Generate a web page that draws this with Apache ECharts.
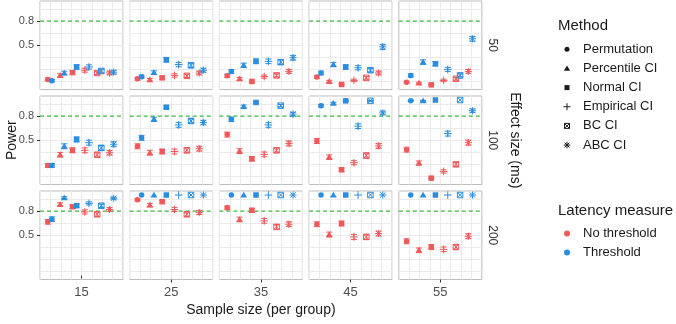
<!DOCTYPE html>
<html>
<head>
<meta charset="utf-8">
<script src="https://cdn.jsdelivr.net/npm/echarts@6/dist/echarts.min.js"></script>
<style>
  html, body { margin: 0; padding: 0; background: #fff; }
  #chart { width: 676px; height: 324px; }
</style>
</head>
<body>
<div id="chart"></div>
<script>
var sampleSizes = [15, 25, 35, 45, 55];
var effectSizes = [50, 100, 200];
var methods = ['Permutation', 'Percentile CI', 'Normal CI', 'Empirical CI', 'BC CI', 'ABC CI'];
var latencyMeasures = ['No threshold', 'Threshold'];
var yTicks = [0.5, 0.8];
var yGrid = [0.05, 0.2, 0.35, 0.5, 0.65, 0.95]; // 0.8 is covered by the target line
var targetPower = 0.8;
var nSim = 1000; // simulations per cell, for the error bars

// power: one row per sample size, one column per method
var noThr50 = [
  [0.075, 0.125, 0.16, 0.19, 0.155, 0.155],
  [0.083, 0.07, 0.095, 0.125, 0.12, 0.155],
  [0.12, 0.083, 0.05, 0.11, 0.125, 0.175],
  [0.105, 0.05, 0.013, 0.063, 0.095, 0.155],
  [0.04, 0.03, 0.008, 0.063, 0.083, 0.175]
];
var thr50 = [
  [0.06, 0.155, 0.23, 0.23, 0.18, 0.165],
  [0.11, 0.16, 0.32, 0.26, 0.25, 0.19],
  [0.175, 0.25, 0.30, 0.30, 0.29, 0.345],
  [0.155, 0.26, 0.23, 0.22, 0.19, 0.48],
  [0.125, 0.29, 0.27, 0.2, 0.125, 0.58]
];
var noThr100 = [
  [0.187, 0.32, 0.375, 0.375, 0.32, 0.345],
  [0.425, 0.345, 0.36, 0.36, 0.375, 0.395],
  [0.57, 0.365, 0.27, 0.325, 0.375, 0.46],
  [0.49, 0.29, 0.133, 0.22, 0.31, 0.43],
  [0.383, 0.217, 0.029, 0.113, 0.2, 0.47]
];
var thr100 = [
  [0.187, 0.425, 0.51, 0.47, 0.405, 0.45],
  [0.53, 0.76, 0.91, 0.69, 0.74, 0.72],
  [0.76, 0.92, 0.97, 0.69, 0.93, 0.825],
  [0.93, 0.96, 0.99, 0.675, 0.99, 0.84],
  [0.99, 0.99, 1.0, 0.583, 1.0, 0.867]
];
var noThr200 = [
  [0.667, 0.883, 0.854, 0.79, 0.76, 0.82],
  [0.94, 0.875, 0.917, 0.82, 0.76, 0.783],
  [0.842, 0.696, 0.81, 0.679, 0.604, 0.637],
  [0.637, 0.508, 0.646, 0.479, 0.479, 0.521],
  [0.425, 0.313, 0.354, 0.325, 0.354, 0.488]
];
var thr200 = [
  [0.70, 0.967, 0.867, 0.896, 0.867, 0.96],
  [1, 1, 1, 1, 1, 1],
  [1, 1, 1, 1, 1, 1],
  [1, 1, 1, 1, 1, 1],
  [1, 1, 1, 1, 1, 1]
];

var tables = [[noThr50, noThr100, noThr200], [thr50, thr100, thr200]];
var latencyColors = ['#f0585a', '#2a8de0'];
var TARGET_COLOR = '#3cb83c';
var GRID_COLOR = '#ebebeb';
var FONT = 'Liberation Sans, Arial, sans-serif';

// panel layout
var LEFT0 = 40, TOP0 = 1, COL_STEP = 89.7, ROW_STEP = 95;
var PANEL_W = 83, PANEL_H = 88.5;
var Y_MIN = -0.05, Y_MAX = 1.05, Y_STEP = 0.05;
var X_MIN = 0, X_MAX = 8;
// x inside a panel runs 0..8, methods dodged around these centres
var METHOD_X0 = 0.95, METHOD_STEP = 1.19, DODGE = 0.2;
var POINT_SIZE = 5.5;

// one colour per y tick (every 0.05), transparent where no grid line is wanted
var yLineColors = [];
for (var t = 0; t <= Math.round((Y_MAX - Y_MIN) / Y_STEP); t++) {
  var v = Y_MIN + t * Y_STEP;
  var on = yGrid.some(function (gv) { return Math.abs(gv - v) < 1e-6; });
  yLineColors.push(on ? GRID_COLOR : 'rgba(0,0,0,0)');
}

function shapeEls(m, cx, cy, s, color) {
  var h = s / 2;
  function ln(x1, y1, x2, y2) {
    return { type: 'line', shape: { x1: x1, y1: y1, x2: x2, y2: y2 }, style: { stroke: color, lineWidth: 1 } };
  }
  switch (m) {
    case 0:
      return [{ type: 'circle', shape: { cx: cx, cy: cy, r: h }, style: { fill: color } }];
    case 1:
      return [{ type: 'polygon', shape: { points: [[cx, cy - h * 1.2], [cx - h * 1.25, cy + h * 0.9], [cx + h * 1.25, cy + h * 0.9]] }, style: { fill: color } }];
    case 2:
      return [{ type: 'rect', shape: { x: cx - h, y: cy - h, width: s, height: s }, style: { fill: color } }];
    case 3:
      return [ln(cx - h * 1.4, cy, cx + h * 1.4, cy), ln(cx, cy - h * 1.4, cx, cy + h * 1.4)];
    case 4:
      return [
        { type: 'rect', shape: { x: cx - h, y: cy - h, width: s, height: s }, style: { fill: 'none', stroke: color, lineWidth: 1 } },
        ln(cx - h, cy - h, cx + h, cy + h), ln(cx - h, cy + h, cx + h, cy - h)
      ];
    default:
      var d = h * 0.95;
      return [
        ln(cx - h * 1.3, cy, cx + h * 1.3, cy), ln(cx, cy - h * 1.3, cx, cy + h * 1.3),
        ln(cx - d, cy - d, cx + d, cy + d), ln(cx - d, cy + d, cx + d, cy - d)
      ];
  }
}

function renderPoint(params, api) {
  var x = api.value(0), y = api.value(1), m = api.value(2), l = api.value(3);
  var color = latencyColors[l];
  var half = 1.96 * Math.sqrt(y * (1 - y) / nSim);
  var p = api.coord([x, y]);
  var lo = api.coord([x, Math.max(0, y - half)]);
  var hi = api.coord([x, Math.min(1, y + half)]);
  var kids = [];
  if (lo[1] - hi[1] > 0.5) {
    var st = { stroke: color, lineWidth: 1 };
    kids.push(
      { type: 'line', shape: { x1: p[0], y1: lo[1], x2: p[0], y2: hi[1] }, style: st },
      { type: 'line', shape: { x1: p[0] - 3, y1: lo[1], x2: p[0] + 3, y2: lo[1] }, style: st },
      { type: 'line', shape: { x1: p[0] - 3, y1: hi[1], x2: p[0] + 3, y2: hi[1] }, style: st }
    );
  }
  return { type: 'group', children: kids.concat(shapeEls(m, p[0], p[1], POINT_SIZE, color)) };
}

var grids = [], xAxes = [], yAxes = [], series = [];
for (var r = 0; r < effectSizes.length; r++) {
  for (var c = 0; c < sampleSizes.length; c++) {
    var g = grids.length;
    grids.push({
      left: LEFT0 + c * COL_STEP, top: TOP0 + r * ROW_STEP, width: PANEL_W, height: PANEL_H,
      show: true, borderColor: '#bdbdbd', borderWidth: 1, containLabel: false, outerBoundsMode: 'none'
    });
    var xi = xAxes.length;
    xAxes.push({
      gridIndex: g, type: 'value', min: X_MIN, max: X_MAX, interval: 1, position: 'top',
      axisLine: { show: false }, axisTick: { show: false }, axisLabel: { show: false },
      splitLine: { show: true, lineStyle: { color: GRID_COLOR, width: 1 } }
    });
    if (r === effectSizes.length - 1) {
      xAxes.push({
        gridIndex: g, type: 'value', min: X_MIN, max: X_MAX, position: 'bottom',
        axisLine: { show: false },
        axisTick: { show: true, customValues: [4], length: 3, lineStyle: { color: '#333' } },
        axisLabel: {
          show: true, customValues: [4], margin: 6, fontSize: 13, fontFamily: FONT, color: '#4d4d4d',
          formatter: (function (n) { return function () { return String(n); }; })(sampleSizes[c])
        },
        splitLine: { show: false }
      });
    }
    var yi = yAxes.length;
    yAxes.push({
      gridIndex: g, type: 'value', min: Y_MIN, max: Y_MAX, interval: Y_STEP, position: 'right',
      axisLine: { show: false }, axisTick: { show: false }, axisLabel: { show: false },
      splitLine: { show: true, lineStyle: { color: yLineColors, width: 1 } }
    });
    if (c === 0) {
      yAxes.push({
        gridIndex: g, type: 'value', min: Y_MIN, max: Y_MAX, position: 'left',
        axisLine: { show: false },
        axisTick: { show: true, customValues: yTicks, length: 3, lineStyle: { color: '#333' } },
        axisLabel: {
          show: true, customValues: yTicks, margin: 6, fontSize: 11, fontFamily: FONT, color: '#4d4d4d',
          formatter: function (v) { return v.toFixed(1); }
        },
        splitLine: { show: false }
      });
    }
    // dashed target-power line across the panel
    series.push({
      type: 'line', xAxisIndex: xi, yAxisIndex: yi, silent: true, symbol: 'none', z: 1,
      data: [[X_MIN, targetPower], [X_MAX, targetPower]],
      lineStyle: { color: TARGET_COLOR, type: [4, 3], width: 1.1 },
      itemStyle: { color: TARGET_COLOR }
    });
    var data = [];
    for (var l = 0; l < latencyMeasures.length; l++) {
      for (var m = 0; m < methods.length; m++) {
        data.push([METHOD_X0 + m * METHOD_STEP + (l ? DODGE : -DODGE), tables[l][r][c][m], m, l]);
      }
    }
    series.push({
      type: 'custom', xAxisIndex: xi, yAxisIndex: yi, renderItem: renderPoint, z: 3,
      encode: { x: 0, y: 1 }, data: data, clip: false, silent: true
    });
  }
}

function txt(s, x, y, size, color, align, rot) {
  return {
    type: 'text', x: x, y: y, rotation: rot || 0,
    style: { text: s, fontSize: size, fontFamily: FONT, fill: color, align: align, verticalAlign: 'middle' }
  };
}

var panelsMidY = TOP0 + (ROW_STEP * 2 + PANEL_H) / 2;
var panelsMidX = LEFT0 + (COL_STEP * 4 + PANEL_W) / 2;
var stripX = LEFT0 + COL_STEP * 4 + PANEL_W + 11;
var els = [
  txt('Power', 12, panelsMidY, 14, '#1a1a1a', 'center', Math.PI / 2),
  txt('Sample size (per group)', panelsMidX, 310, 14, '#1a1a1a', 'center'),
  txt('Effect size (ms)', 515, panelsMidY, 14, '#1a1a1a', 'center', -Math.PI / 2),
  txt('Method', 558, 26, 15, '#1a1a1a', 'left'),
  txt('Latency measure', 558, 211, 15, '#1a1a1a', 'left')
];
effectSizes.forEach(function (e, i) {
  els.push(txt(String(e), stripX, TOP0 + i * ROW_STEP + PANEL_H / 2, 12, '#333', 'center', -Math.PI / 2));
});
methods.forEach(function (name, i) {
  var y = 49.3 + i * 19.15;
  els.push({ type: 'group', children: shapeEls(i, 567, y, 5, '#1a1a1a') });
  els.push(txt(name, 583, y, 13, '#1a1a1a', 'left'));
});
latencyMeasures.forEach(function (name, i) {
  var y = 233.5 + i * 19;
  els.push({ type: 'circle', shape: { cx: 567, cy: y, r: 3 }, style: { fill: latencyColors[i] } });
  els.push(txt(name, 583, y, 13, '#1a1a1a', 'left'));
});

var chart = echarts.init(document.getElementById('chart'), null, { renderer: 'canvas' });
chart.setOption({
  animation: false,
  backgroundColor: '#fff',
  grid: grids,
  xAxis: xAxes,
  yAxis: yAxes,
  series: series,
  graphic: { elements: els }
});
</script>
</body>
</html>
